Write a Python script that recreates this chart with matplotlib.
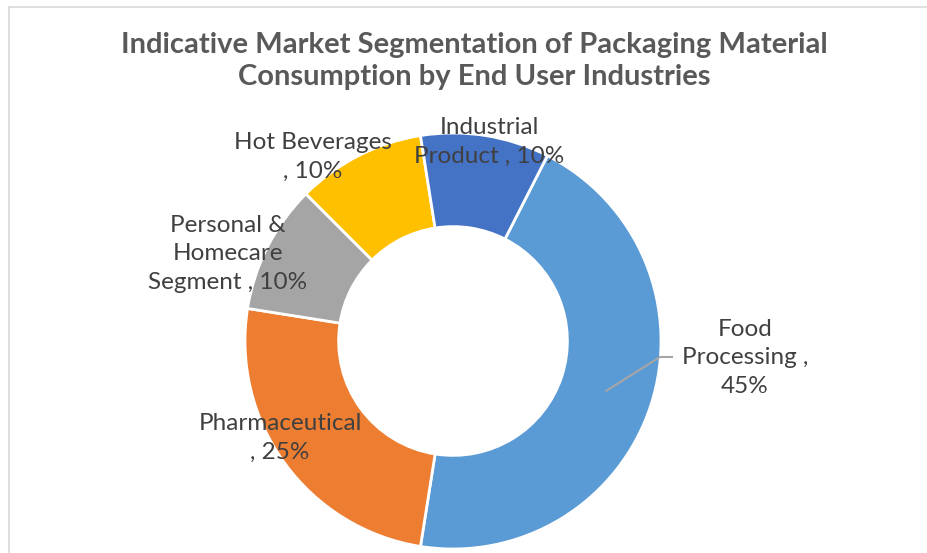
import numpy as np
import matplotlib.pyplot as plt
from matplotlib.lines import Line2D

# data
segments = ['Food\nProcessing ,\n45%', 'Pharmaceutical\n, 25%',
            'Personal &\nHomecare\nSegment , 10%', 'Hot Beverages\n, 10%',
            'Industrial\nProduct , 10%']
shares = [45, 25, 10, 10, 10]
colors = ['#5B9BD5', '#ED7D31', '#A5A5A5', '#FFC000', '#4472C4']

# label centres in pixels (layout only)
label_px = [(745, 358), (280, 438), (228, 254), (313, 157), (489, 142)]

W, H = 927, 553
cx, cy, R = 453, 341, 208
hole = 0.55

plt.rcParams['font.family'] = ['Lato', 'DejaVu Sans']

fig = plt.figure(figsize=(W / 100, H / 100), dpi=100)
ax = fig.add_axes([(cx - R) / W, (H - cy - R) / H, 2 * R / W, 2 * R / H])

start = 90 - 27
wedges, _ = ax.pie(shares, colors=colors, startangle=start, counterclock=False,
                   radius=1, wedgeprops=dict(width=1 - hole, edgecolor='white', linewidth=2))
ax.set_xlim(-1, 1)
ax.set_ylim(-1, 1)
ax.axis('off')

def px2data(px, py):
    return (px - cx) / R, (cy - py) / R

for lab, (px, py) in zip(segments, label_px):
    x, y = px2data(px, py)
    ax.text(x, y, lab, ha='center', va='center', fontsize=17.5, color='#404040',
            linespacing=1.45, clip_on=False, zorder=5)

# leader line for the food slice
w = wedges[0]
mid = np.deg2rad((w.theta1 + w.theta2) / 2)
rm = (1 + hole) / 2
x0, y0 = rm * np.cos(mid), rm * np.sin(mid)
x1, y1 = px2data(660, 357)
x2, y2 = px2data(672, 357)
ax.add_line(Line2D([x0, x1, x2], [y0, y1, y2], color='#A6A6A6', lw=1.5, clip_on=False))

fig.text(474 / W, 1 - 61 / H, 'Indicative Market Segmentation of Packaging Material\nConsumption by End User Industries',
         ha='center', va='center', fontsize=21, fontweight='bold', color='#595959', linespacing=1.28)

# chart frame (top and left visible)
fig.add_artist(Line2D([9 / W, 1], [1 - 7 / H, 1 - 7 / H], transform=fig.transFigure, color='#D9D9D9', lw=1.2))
fig.add_artist(Line2D([9 / W, 9 / W], [0, 1 - 7 / H], transform=fig.transFigure, color='#D9D9D9', lw=1.2))

fig.savefig('out.png', dpi=100)
